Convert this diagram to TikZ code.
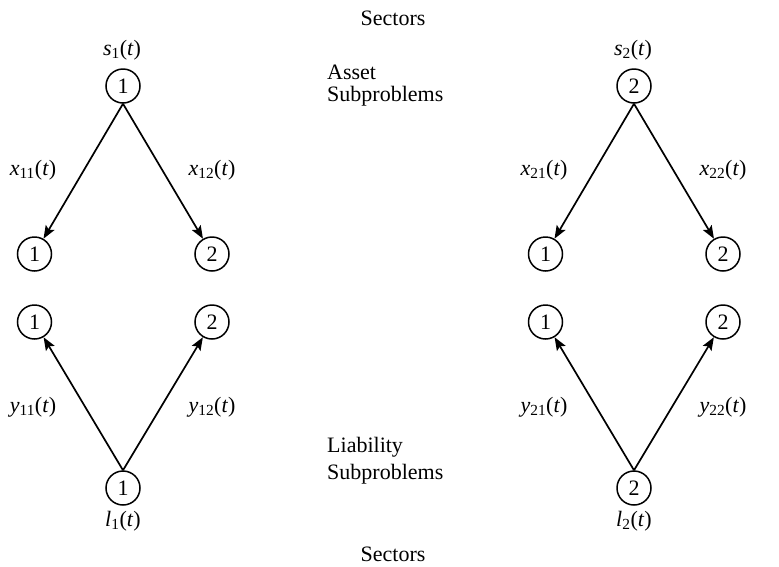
\documentclass[tikz,border=0pt]{standalone}
\usepackage{fontspec}
\setmainfont{Liberation Serif}
\usetikzlibrary{arrows.meta}
\newcommand{\varlbl}[2]{\textit{#1}\textsubscript{#2}(\textit{t})}
\begin{document}
\begin{tikzpicture}[x=1pt,y=-1pt,
  every node/.style={font=\fontsize{22}{26}\selectfont},
  nd/.style={circle,draw,line width=1.5pt,minimum size=34pt,inner sep=0pt},
  arr/.style={line width=1.7pt,-{Stealth[length=13pt,width=10pt,inset=2.5pt]}},
  txt/.style={anchor=base west,inner sep=0pt}]
\useasboundingbox (0,0) rectangle (779,566);
% titles
\node[anchor=base,inner sep=0pt] (sectop) at (393,25) {Sectors};
\node[anchor=base,inner sep=0pt] (secbot) at (393,561) {Sectors};
\node[txt] (asset1) at (327,79) {Asset};
\node[txt] (asset2) at (327,101) {Subproblems};
\node[txt] (liab1) at (327,452) {Liability};
\node[txt] (liab2) at (327,479) {Subproblems};
% left group
\node[nd] (s1) at (123,86) {1};
\node (s1l) at (122,50) {\varlbl{s}{1}};
\node[nd] (a11) at (34.5,254) {1};
\node[nd] (a12) at (212,254) {2};
\node (x11) at (33,170) {\varlbl{x}{11}};
\node (x12) at (212,170) {\varlbl{x}{12}};
\draw[arr] (s1.south) -- (a11);
\draw[arr] (s1.south) -- (a12);
\node[nd] (b11) at (34.5,322) {1};
\node[nd] (b12) at (212,322) {2};
\node[nd] (l1) at (123,488) {1};
\node (l1l) at (123,521) {\varlbl{l}{1}};
\node (y11) at (33,407) {\varlbl{y}{11}};
\node (y12) at (212,407) {\varlbl{y}{12}};
\draw[arr] (l1.north) -- (b11);
\draw[arr] (l1.north) -- (b12);
% right group
\node[nd] (s2) at (634,86) {2};
\node (s2l) at (633,50) {\varlbl{s}{2}};
\node[nd] (a21) at (545.5,254) {1};
\node[nd] (a22) at (723,254) {2};
\node (x21) at (544,170) {\varlbl{x}{21}};
\node (x22) at (723,170) {\varlbl{x}{22}};
\draw[arr] (s2.south) -- (a21);
\draw[arr] (s2.south) -- (a22);
\node[nd] (b21) at (545.5,322) {1};
\node[nd] (b22) at (723,322) {2};
\node[nd] (l2) at (634,488) {2};
\node (l2l) at (634,521) {\varlbl{l}{2}};
\node (y21) at (544,407) {\varlbl{y}{21}};
\node (y22) at (723,407) {\varlbl{y}{22}};
\draw[arr] (l2.north) -- (b21);
\draw[arr] (l2.north) -- (b22);
\end{tikzpicture}
\end{document}
